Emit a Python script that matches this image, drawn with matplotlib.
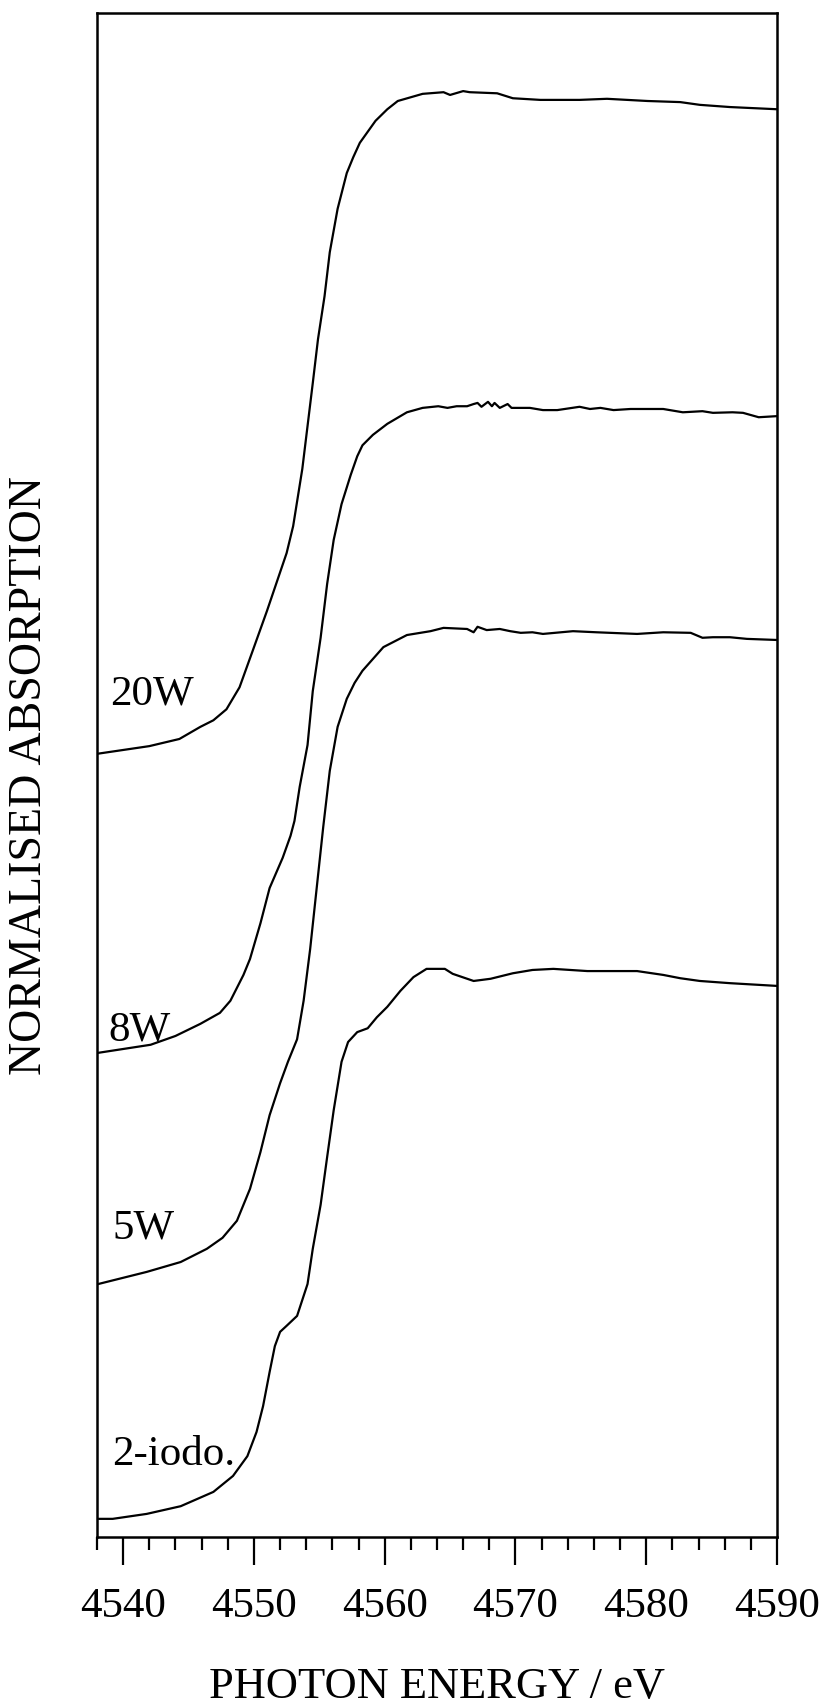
import matplotlib
matplotlib.use("Agg")
import matplotlib.pyplot as plt
from matplotlib.ticker import MultipleLocator

plt.rcParams['font.family'] = ['Liberation Serif', 'DejaVu Serif']

# ---- data (photon energy in eV, stacked normalised absorption) ----
e_20w = [4538.0, 4542.0, 4544.3, 4545.9, 4546.9, 4547.9, 4548.9, 4549.9, 4551.0, 4551.8,
         4552.5, 4553.0, 4553.7, 4554.1, 4554.5, 4554.9, 4555.4, 4555.8, 4556.4, 4557.1,
         4557.6, 4558.1, 4559.3, 4560.2, 4561.0, 4562.9, 4564.5, 4565.0, 4566.0, 4566.5,
         4568.6, 4569.8, 4571.9, 4574.9, 4577.0, 4580.1, 4582.6, 4584.1, 4586.4, 4590.0]
a_20w = [1.424, 1.438, 1.451, 1.473, 1.485, 1.505, 1.545, 1.611, 1.684, 1.740,
         1.789, 1.838, 1.942, 2.020, 2.098, 2.178, 2.256, 2.336, 2.415, 2.480,
         2.509, 2.535, 2.575, 2.596, 2.611, 2.624, 2.627, 2.622, 2.629, 2.627,
         2.625, 2.616, 2.613, 2.613, 2.615, 2.611, 2.609, 2.604, 2.600, 2.596]

e_8w = [4538.0, 4542.1, 4544.0, 4545.9, 4547.4, 4548.2, 4549.2, 4549.7, 4550.5, 4551.2,
        4552.2, 4552.8, 4553.1, 4553.5, 4554.1, 4554.5, 4555.1, 4555.6, 4556.1, 4556.7,
        4557.4, 4557.9, 4558.3, 4559.1, 4560.2, 4561.7, 4562.9, 4564.1, 4564.8, 4565.5,
        4566.3, 4566.8, 4567.1, 4567.4, 4567.9, 4568.2, 4568.4, 4568.8, 4569.4, 4569.7,
        4571.1, 4572.1, 4573.2, 4574.9, 4575.7, 4576.5, 4577.5, 4578.8, 4581.3, 4581.8,
        4582.8, 4584.3, 4585.1, 4586.6, 4587.4, 4588.6, 4590.0]
a_8w = [0.880, 0.895, 0.911, 0.933, 0.953, 0.975, 1.022, 1.051, 1.116, 1.180,
        1.235, 1.275, 1.302, 1.364, 1.440, 1.538, 1.635, 1.733, 1.813, 1.878,
        1.931, 1.965, 1.985, 2.004, 2.024, 2.045, 2.053, 2.056, 2.053, 2.056,
        2.056, 2.060, 2.062, 2.055, 2.064, 2.056, 2.062, 2.053, 2.060, 2.053,
        2.053, 2.049, 2.049, 2.055, 2.051, 2.053, 2.049, 2.051, 2.051, 2.049,
        2.045, 2.047, 2.044, 2.045, 2.044, 2.036, 2.038]

e_5w = [4538.1, 4541.8, 4544.4, 4546.4, 4547.6, 4548.7, 4549.7, 4550.5, 4551.2, 4552.0,
        4552.6, 4553.3, 4553.8, 4554.3, 4554.8, 4555.3, 4555.8, 4556.4, 4557.1, 4557.7,
        4558.3, 4559.9, 4561.7, 4563.5, 4564.5, 4566.3, 4566.8, 4567.1, 4567.8, 4568.8,
        4569.6, 4570.4, 4571.3, 4572.1, 4574.4, 4576.2, 4579.3, 4581.3, 4583.4, 4584.3,
        4585.1, 4586.4, 4587.7, 4590.0]
a_5w = [0.460, 0.482, 0.500, 0.524, 0.544, 0.575, 0.633, 0.700, 0.767, 0.825,
        0.864, 0.905, 0.975, 1.069, 1.180, 1.291, 1.393, 1.473, 1.524, 1.553,
        1.575, 1.618, 1.640, 1.647, 1.653, 1.651, 1.645, 1.655, 1.649, 1.651,
        1.647, 1.644, 1.645, 1.642, 1.647, 1.645, 1.642, 1.645, 1.644, 1.635,
        1.636, 1.636, 1.633, 1.631]

e_iodo = [4538.1, 4539.2, 4541.8, 4544.4, 4546.9, 4548.4, 4549.5, 4550.2, 4550.7, 4551.2,
          4551.6, 4552.0, 4552.5, 4553.3, 4554.1, 4554.5, 4555.1, 4555.6, 4556.1, 4556.7,
          4557.2, 4557.9, 4558.7, 4559.4, 4560.2, 4561.2, 4562.2, 4563.2, 4564.6, 4565.2,
          4566.8, 4568.1, 4569.8, 4571.3, 4572.9, 4575.5, 4579.3, 4581.3, 4582.6, 4584.1,
          4586.4, 4590.0]
a_iodo = [0.033, 0.033, 0.042, 0.056, 0.082, 0.111, 0.147, 0.191, 0.238, 0.300,
          0.347, 0.373, 0.384, 0.402, 0.460, 0.524, 0.604, 0.691, 0.776, 0.864,
          0.900, 0.918, 0.925, 0.945, 0.964, 0.993, 1.018, 1.033, 1.033, 1.024,
          1.011, 1.015, 1.025, 1.031, 1.033, 1.029, 1.029, 1.022, 1.016, 1.011,
          1.007, 1.002]

sample_labels = ["20W", "8W", "5W", "2-iodo."]
label_x = [4539.0, 4538.9, 4539.15, 4539.15]
label_y = [1.515, 0.905, 0.545, 0.133]

x_ticks = [4540, 4550, 4560, 4570, 4580, 4590]
x_limits = (4538, 4590)
y_limits = (0.0, 2.771)

# ---- figure ----
W, H = 829, 1708
fig = plt.figure(figsize=(W / 100, H / 100), dpi=100)
ax = fig.add_axes([97 / W, 1 - 1538 / H, (777 - 97) / W, (1538 - 14) / H])

for e, a in [(e_20w, a_20w), (e_8w, a_8w), (e_5w, a_5w), (e_iodo, a_iodo)]:
    ax.plot(e, a, color='black', lw=1.6, solid_joinstyle='round')

for t, lx, ly in zip(sample_labels, label_x, label_y):
    ax.text(lx, ly, t, fontsize=31, ha='left', va='baseline')

ax.set_xlim(*x_limits)
ax.set_ylim(*y_limits)
ax.set_xticks(x_ticks)
ax.set_xticklabels([str(t) for t in x_ticks])
ax.xaxis.set_minor_locator(MultipleLocator(2))
ax.set_yticks([])
ax.tick_params(axis='x', which='major', direction='out', length=20, width=1.6,
               labelsize=31, pad=16, top=False)
ax.tick_params(axis='x', which='minor', direction='out', length=9.5, width=1.6, top=False)
for s in ax.spines.values():
    s.set_linewidth(1.8)

ax.set_xlabel("PHOTON ENERGY / eV", fontsize=32, va='center')
ax.xaxis.set_label_coords(0.5, (1538 - 1687) / (1538 - 14))
ax.set_ylabel("NORMALISED ABSORPTION", fontsize=33, va='center')
ax.yaxis.set_label_coords((30 - 97) / (777 - 97), 0.5)

fig.savefig("out.png", dpi=100)
